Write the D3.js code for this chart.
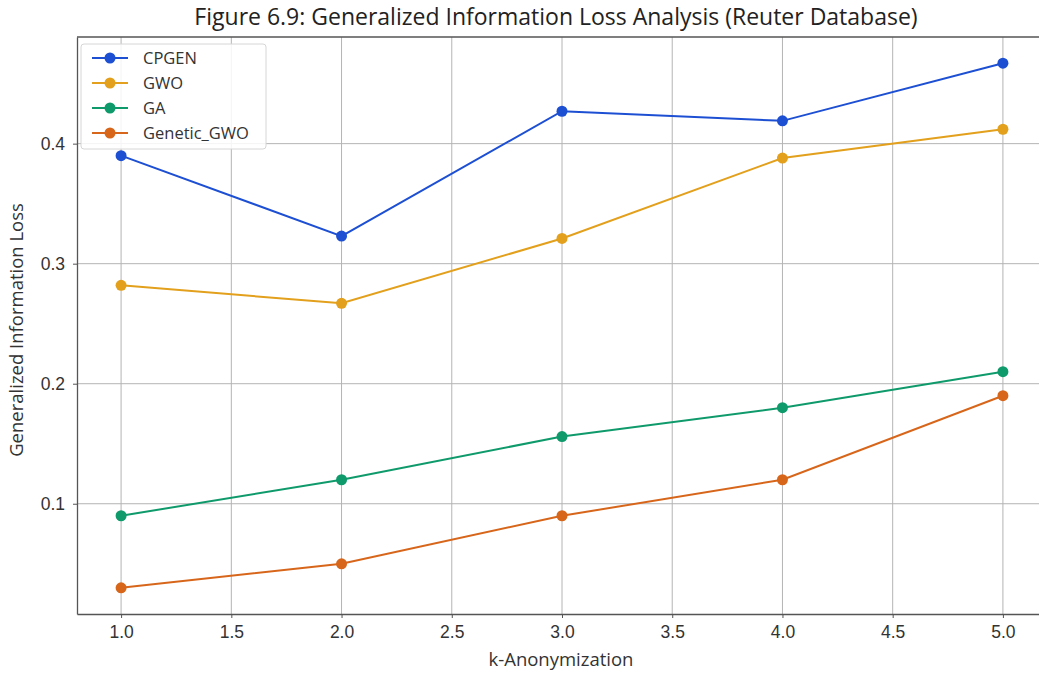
<!DOCTYPE html>
<html>
<head>
<meta charset="utf-8">
<script src="https://cdn.jsdelivr.net/npm/d3@7"></script>
<style>
  html, body { margin: 0; padding: 0; background: #fff; }
  svg { display: block; font-family: "Open Sans", "Noto Sans", sans-serif; }
</style>
</head>
<body>
<svg id="chart" width="1039" height="673"></svg>
<script>
// k values on the x axis
const kValues = [1, 2, 3, 4, 5];

// Generalized information loss per method
const cpgen      = [0.390, 0.323, 0.427, 0.419, 0.467];
const gwo        = [0.282, 0.267, 0.321, 0.388, 0.412];
const ga         = [0.090, 0.120, 0.156, 0.180, 0.210];
const geneticGwo = [0.030, 0.050, 0.090, 0.120, 0.190];

const seriesNames = ["CPGEN", "GWO", "GA", "Genetic_GWO"];
const xTicks = [1.0, 1.5, 2.0, 2.5, 3.0, 3.5, 4.0, 4.5, 5.0];
const yTicks = [0.1, 0.2, 0.3, 0.4];

const colors = ["#1d4fd3", "#e2a01c", "#0f9a6c", "#d7661b"];
const seriesValues = [cpgen, gwo, ga, geneticGwo];

const svg = d3.select("#chart");
const plot = { left: 77, right: 1047, top: 37, bottom: 614 };

// 5% padding around the data range on both axes
const x = d3.scaleLinear().domain([0.8, 5.2]).range([plot.left, plot.right]);
const allY = seriesValues.flat();
const yMin = d3.min(allY), yMax = d3.max(allY), pad = (yMax - yMin) * 0.05;
const y = d3.scaleLinear().domain([yMin - pad, yMax + pad]).range([plot.bottom, plot.top]);

// Grid
const grid = svg.append("g").attr("stroke", "#b4b4b4").attr("stroke-width", 1);
grid.selectAll("line.vx").data(xTicks).join("line")
  .attr("x1", d => x(d)).attr("x2", d => x(d))
  .attr("y1", plot.top).attr("y2", plot.bottom);
grid.selectAll("line.hy").data(yTicks).join("line")
  .attr("x1", plot.left).attr("x2", plot.right)
  .attr("y1", d => y(d)).attr("y2", d => y(d));

// Axes
const xAxis = svg.append("g")
  .attr("transform", `translate(0,${plot.bottom})`)
  .call(d3.axisBottom(x).tickValues(xTicks).tickFormat(d3.format(".1f")).tickSize(4).tickPadding(8).tickSizeOuter(0));
const yAxis = svg.append("g")
  .attr("transform", `translate(${plot.left},0)`)
  .call(d3.axisLeft(y).tickValues(yTicks).tickFormat(d3.format(".1f")).tickSize(4).tickPadding(8).tickSizeOuter(0));
[xAxis, yAxis].forEach(a => {
  a.select(".domain").attr("stroke", "#555").attr("stroke-width", 1.3);
  a.selectAll(".tick line").attr("stroke", "#555");
  a.selectAll(".tick text").attr("fill", "#333").attr("font-size", 17.5);
});
// top spine
svg.append("line")
  .attr("x1", plot.left).attr("x2", plot.right)
  .attr("y1", plot.top).attr("y2", plot.top)
  .attr("stroke", "#555").attr("stroke-width", 1.3);

// Lines and markers
const line = d3.line().x((d, i) => x(kValues[i])).y(d => y(d));
seriesValues.forEach((vals, s) => {
  const g = svg.append("g");
  g.append("path").datum(vals)
    .attr("d", line).attr("fill", "none")
    .attr("stroke", colors[s]).attr("stroke-width", 2);
  g.selectAll("circle").data(vals).join("circle")
    .attr("cx", (d, i) => x(kValues[i])).attr("cy", d => y(d))
    .attr("r", 5.5).attr("fill", colors[s]);
});

// Title and axis labels
svg.append("text")
  .attr("x", 556).attr("y", 25)
  .attr("text-anchor", "middle").attr("font-size", 23).attr("fill", "#222")
  .text("Figure 6.9: Generalized Information Loss Analysis (Reuter Database)");
svg.append("text")
  .attr("x", 561).attr("y", 666)
  .attr("text-anchor", "middle").attr("font-size", 18.5).attr("fill", "#333")
  .text("k-Anonymization");
svg.append("text")
  .attr("transform", `translate(23,330) rotate(-90)`)
  .attr("text-anchor", "middle").attr("font-size", 18.5).attr("fill", "#333")
  .text("Generalized Information Loss");

// Legend
const legend = svg.append("g").attr("transform", "translate(81,44)");
legend.append("rect")
  .attr("width", 185).attr("height", 105).attr("rx", 3)
  .attr("fill", "#fff").attr("fill-opacity", 0.85)
  .attr("stroke", "#d6d6d6");
seriesNames.forEach((name, s) => {
  const row = legend.append("g").attr("transform", `translate(0,${14 + s * 25})`);
  row.append("line").attr("x1", 11).attr("x2", 47).attr("stroke", colors[s]).attr("stroke-width", 2);
  row.append("circle").attr("cx", 29).attr("r", 5.5).attr("fill", colors[s]);
  row.append("text").attr("x", 62).attr("y", 6)
    .attr("font-size", 16.5).attr("fill", "#333").text(name);
});
</script>
</body>
</html>
